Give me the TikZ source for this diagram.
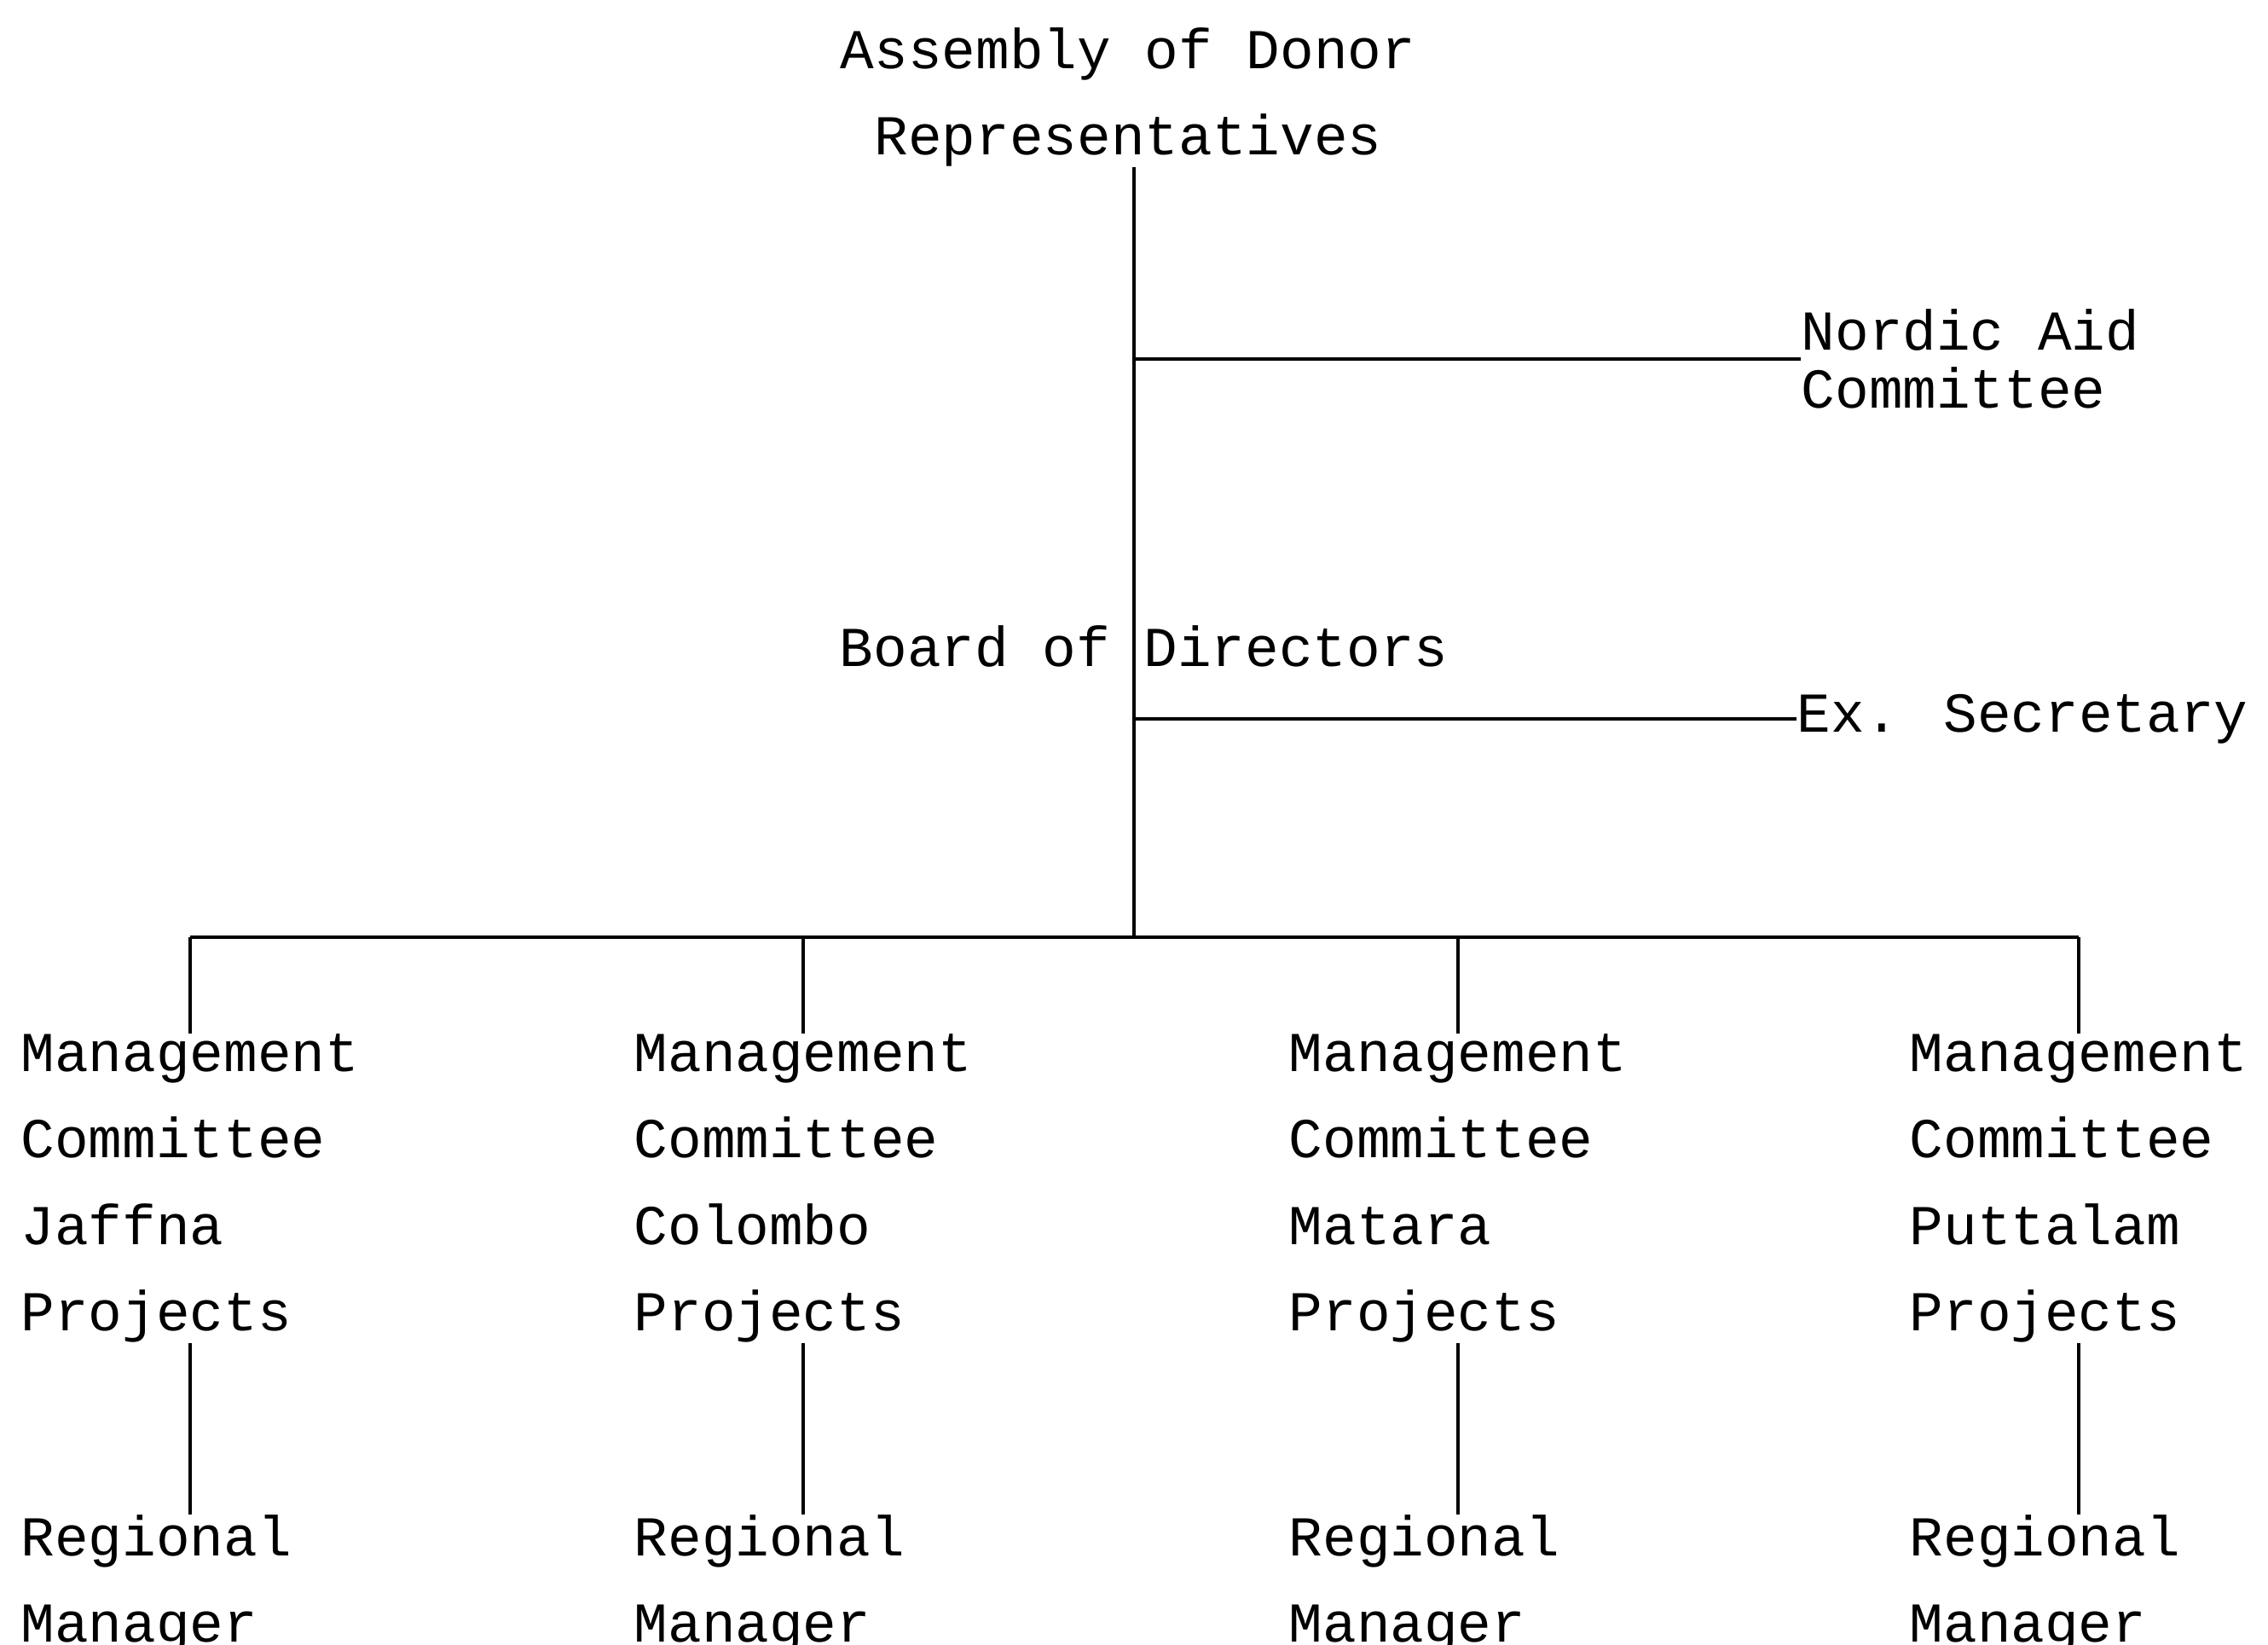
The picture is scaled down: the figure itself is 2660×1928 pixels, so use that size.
\documentclass[tikz,border=0pt]{standalone}
\usepackage{fontspec}
\newfontfamily\typew{Liberation Mono}
\usetikzlibrary{positioning}

\tikzset{
  orgtext/.style={font=\typew\fontsize{18.8}{28.8}\selectfont, inner sep=0pt, align=left},
  tight/.style={font=\typew\fontsize{18.8}{19.5}\selectfont},
  wire/.style={line width=1.2pt}
}

\begin{document}
\begin{tikzpicture}[x=0.1mm,y=-0.1mm]
    \useasboundingbox (0,0) rectangle (2660,1928);

    % Top of the chart
    \node[orgtext, align=center, anchor=north] (adr) at (1323,32) {Assembly of Donor\\Representatives};
    \node[orgtext, anchor=west] (bod) at (984,758) {Board of Directors};
    \node[orgtext, tight, anchor=west] (nac) at (2112,421) {Nordic Aid\\Committee};
    \node[orgtext, anchor=west] (exs) at (2107,843) {Ex. Secretary};
    \coordinate (hub) at (1330,1099);

    % Spine and side branches
    \draw[wire] (adr.south -| hub) -- (hub);
    \draw[wire] (nac.west) -- (nac.west -| hub);
    \draw[wire] (exs.west) -- (exs.west -| hub);

    % Regional columns
    \foreach \n/\x/\place in {1/24/Jaffna, 2/743/Colombo, 3/1511/Matara, 4/2239/Puttalam} {
        \node[orgtext, anchor=north west] (mc\n) at (\x,1212) {Management\\Committee\\\place\\Projects};
        \node[orgtext, anchor=north west] (rm\n) at (\x,1776) {Regional\\Manager};
        \draw[wire] (mc\n.north |- hub) -- (mc\n.north);
        \draw[wire] (mc\n.south) -- (mc\n.south |- rm\n.north);
    }
    \draw[wire] (mc1.north |- hub) -- (mc4.north |- hub);
\end{tikzpicture}
\end{document}
